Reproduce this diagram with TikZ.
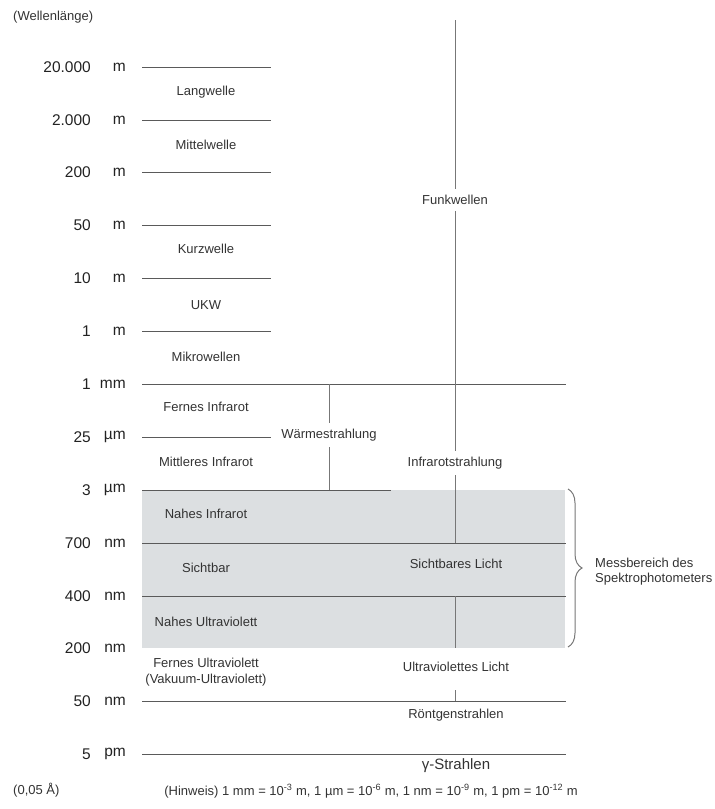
\documentclass[tikz,border=0pt]{standalone}
\usepackage{fontspec}
\setmainfont{Liberation Sans}
\usetikzlibrary{decorations.pathreplacing}
\definecolor{txt}{HTML}{333333}
\definecolor{numc}{HTML}{222222}
\definecolor{ln}{HTML}{5A5A5A}
\definecolor{vln}{HTML}{777777}
\definecolor{band}{HTML}{DCDFE1}
\begin{document}
\begin{tikzpicture}[x=1pt,y=-1pt,
  lbl/.style={text=txt,font=\fontsize{13}{16}\selectfont,inner sep=2pt},
  vlbl/.style={lbl,inner ysep=6pt},
  num/.style={text=numc,font=\fontsize{15.5}{18}\selectfont,anchor=east,inner sep=0pt},
  scaleline/.style={draw=ln,line width=1pt},
  vline/.style={draw=vln,line width=1pt}]
\useasboundingbox (0,0) rectangle (715,809);
% grey measuring band
\fill[band] (142,490) rectangle (565,648);
% scale rows
\foreach \n/\y/\num/\unit/\r in {
  a/67/20.000/m/271, b/120/2.000/m/271, c/172/200/m/271, d/225/50/m/271,
  e/278/10/m/271, f/331/1/m/271, g/384/1/mm/566, h/437/25/µm/271,
  i/490/3/µm/391, j/543/700/nm/566, k/596/400/nm/566, m/701/50/nm/566,
  n/754/5/pm/566}{
  \node[num] (v\n) at (91,\y) {\num};
  \node[num] (u\n) at (126,\y) {\unit};
  \coordinate (L\n) at (142,\y);
  \coordinate (R\n) at (\r,\y);
  \draw[scaleline] (L\n) -- (R\n);
}
\node[num] (vl) at (91,648) {200};
\node[num] (ul) at (126,648) {nm};
% headings
\node[lbl,anchor=west] (head) at (11,17) {(Wellenlänge)};
\node[lbl,anchor=west] (ang) at (11,790) {(0,05 Å)};
% left band labels
\node[lbl] (lang) at (206,92) {Langwelle};
\node[lbl] (mittel) at (206,145) {Mittelwelle};
\node[lbl] (kurz) at (206,249) {Kurzwelle};
\node[lbl] (ukw) at (206,305) {UKW};
\node[lbl] (mikro) at (206,357) {Mikrowellen};
\node[lbl] (fir) at (206,407) {Fernes Infrarot};
\node[lbl] (mir) at (206,462) {Mittleres Infrarot};
\node[lbl] (nir) at (206,514) {Nahes Infrarot};
\node[lbl] (vis) at (206,568) {Sichtbar};
\node[lbl] (nuv) at (206,622) {Nahes Ultraviolett};
\node[lbl,align=center] (fuv) at (206,672) {Fernes Ultraviolett\\(Vakuum-Ultraviolett)};
% right group labels
\node[vlbl] (funk) at (455,200) {Funkwellen};
\node[vlbl] (waerme) at (329,435) {Wärmestrahlung};
\node[vlbl] (infra) at (455,463) {Infrarotstrahlung};
\node[lbl] (licht) at (456,564) {Sichtbares Licht};
\node[lbl] (uvl) at (456,667) {Ultraviolettes Licht};
\node[lbl] (roent) at (456,715) {Röntgenstrahlen};
\node[text=txt,font=\fontsize{15}{18}\selectfont] (gamma) at (456,766) {γ-Strahlen};
% vertical connectors
\coordinate (top) at (455,20);
\coordinate (w1) at (329,384);
\coordinate (w2) at (329,490);
\coordinate (i1) at (455,543);
\coordinate (i2) at (455,596);
\coordinate (i3) at (455,648);
\coordinate (t1) at (455,690);
\coordinate (t2) at (455,701);
\draw[vline] (top) -- (funk.north);
\draw[vline] (funk.south) -- (infra.north);
\draw[vline] (infra.south) -- (i1);
\draw[vline] (i2) -- (i3);
\draw[vline] (t1) -- (t2);
\draw[vline] (w1) -- (waerme.north);
\draw[vline] (waerme.south) -- (w2);
% brace
\coordinate (b1) at (568,489);
\coordinate (b2) at (568,647);
\draw[draw=vln,line width=1pt,decorate,decoration={brace,amplitude=14pt}] (b1) -- (b2);
\node[lbl,align=left,anchor=west,font=\fontsize{13}{15}\selectfont] (mess) at (593,572) {Messbereich des\\Spektrophotometers};
% note
\node[lbl] (note) at (371,791) {(Hinweis) 1 mm = 10\textsuperscript{-3} m, 1 µm = 10\textsuperscript{-6} m, 1 nm = 10\textsuperscript{-9} m, 1 pm = 10\textsuperscript{-12} m};
\end{tikzpicture}
\end{document}
